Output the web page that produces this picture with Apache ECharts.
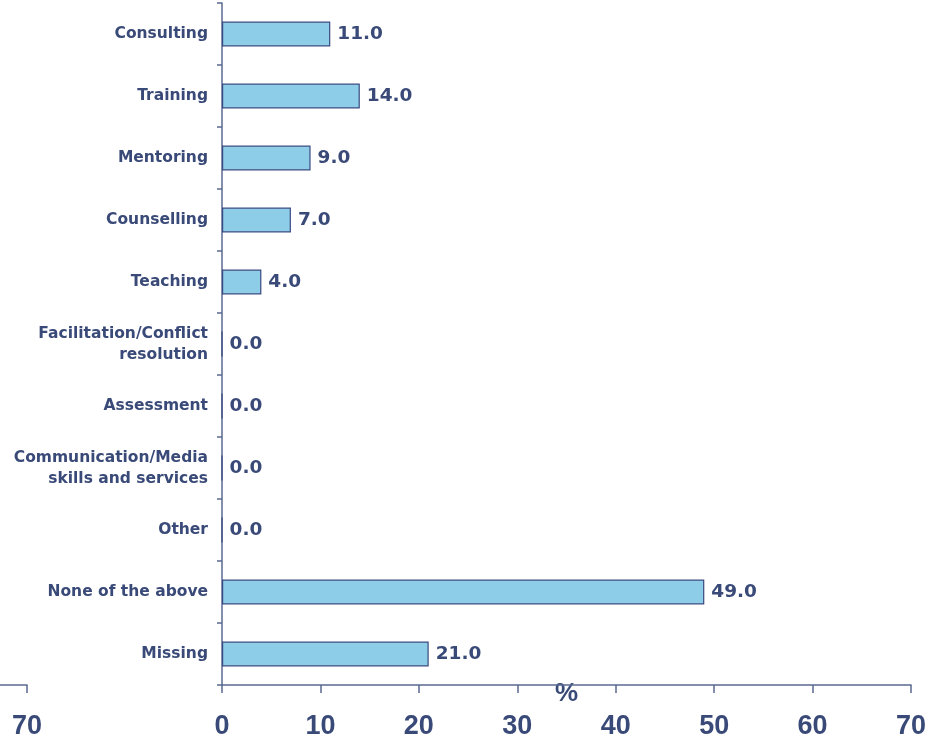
<!DOCTYPE html>
<html><head><meta charset="utf-8">
<script src="https://cdn.jsdelivr.net/npm/echarts@6/dist/echarts.min.js"></script>
<style>html,body{margin:0;padding:0;background:#fff}#c{width:929px;height:742px}</style>
</head><body><div id="c"></div>
<script>
var categories = ["Consulting","Training","Mentoring","Counselling","Teaching","Facilitation/Conflict\nresolution","Assessment","Communication/Media\nskills and services","Other","None of the above","Missing"];
var values = [11.0,14.0,9.0,7.0,4.0,0.0,0.0,0.0,0.0,49.0,21.0];
var xTicks = {min:0,max:70,interval:10};

var txt = '#3A4A78';
var axisCol = '#5A6A90';
var ff = 'DejaVu Sans';
var fa = 'Liberation Sans';
var chart = echarts.init(document.getElementById('c'));
chart.setOption({
  animation:false,
  grid:[
    {left:222,right:18,top:3,height:682,containLabel:false,outerBoundsMode:'none'},
    {left:-60,width:87,top:3,height:682,containLabel:false,outerBoundsMode:'none'}
  ],
  xAxis:[
    {gridIndex:0,type:'value',min:xTicks.min,max:xTicks.max,interval:xTicks.interval,
     name:'%',nameLocation:'middle',nameGap:-4,nameMoveOverlap:false,
     nameTextStyle:{color:txt,fontSize:26,fontWeight:'bold',fontFamily:fa,verticalAlign:'top'},
     axisLine:{show:true,lineStyle:{color:axisCol,width:1.5}},
     axisTick:{show:true,length:8,lineStyle:{color:axisCol,width:1.5}},
     splitLine:{show:false},
     axisLabel:{color:txt,fontSize:27,fontWeight:'bold',fontFamily:fa,margin:28}},
    {gridIndex:1,type:'value',min:0,max:70,interval:70,
     axisLine:{show:true,lineStyle:{color:axisCol,width:1.5}},
     axisTick:{show:true,length:8,lineStyle:{color:axisCol,width:1.5}},
     splitLine:{show:false},
     axisLabel:{showMinLabel:false,color:txt,fontSize:27,fontWeight:'bold',fontFamily:fa,margin:28}}
  ],
  yAxis:[
    {gridIndex:0,type:'category',data:categories,inverse:true,
     axisLine:{show:true,lineStyle:{color:axisCol,width:1.5}},
     axisTick:{show:true,length:5,lineStyle:{color:axisCol,width:1.5}},
     axisLabel:{color:txt,fontSize:15.5,fontWeight:'bold',fontFamily:ff,margin:14,lineHeight:21,align:'right'}},
    {gridIndex:1,type:'category',data:[],show:false}
  ],
  series:[{
    type:'bar',xAxisIndex:0,yAxisIndex:0,data:values,barWidth:'40%',
    itemStyle:{color:'#8ECDE8',borderColor:'#3A4A80',borderWidth:1.2},
    label:{show:true,position:'right',distance:7,color:txt,fontSize:18.5,fontWeight:'bold',fontFamily:ff,
      formatter:function(p){return p.value.toFixed(1);}}
  }]
});
</script></body></html>
